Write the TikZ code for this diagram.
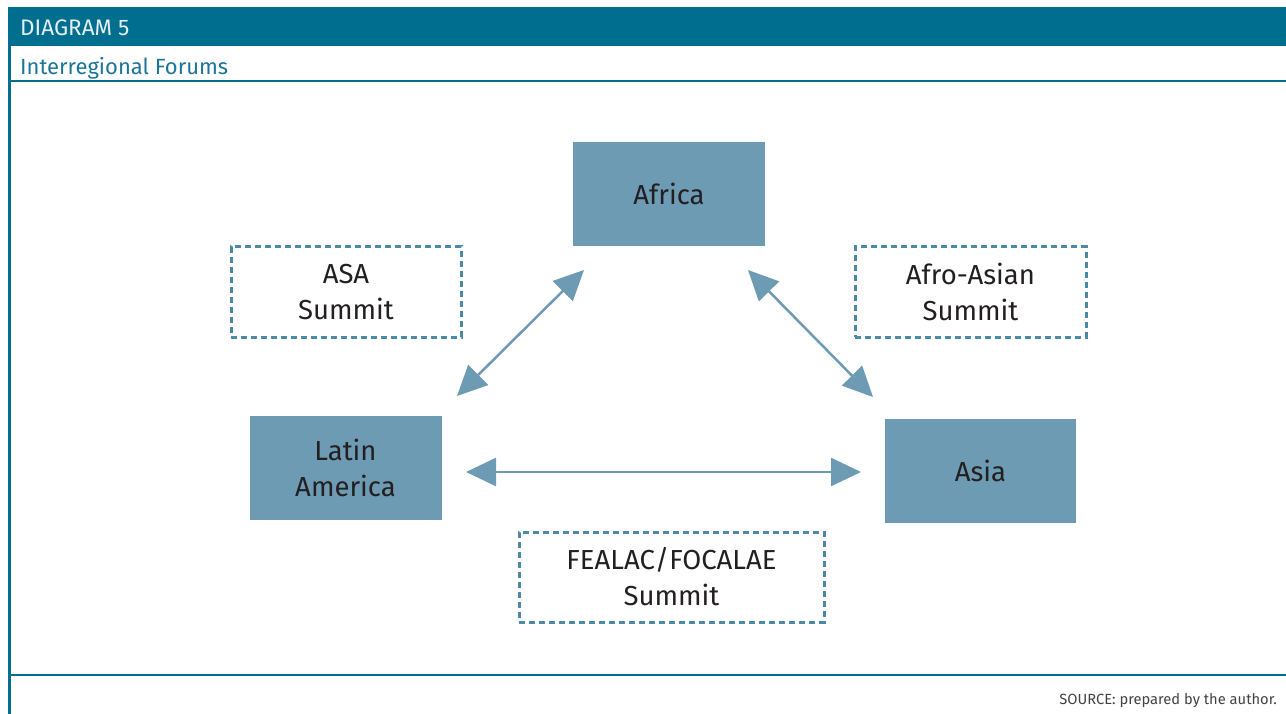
\documentclass[tikz,border=0pt]{standalone}
\usepackage{fontspec}
\setmainfont{Fira Sans}
\usetikzlibrary{arrows.meta}
\definecolor{hdr}{HTML}{006E8F}
\definecolor{hdrtxt}{HTML}{E3EFF3}
\definecolor{subtxt}{HTML}{1B7598}
\definecolor{boxf}{HTML}{6D9BB3}
\definecolor{dashc}{HTML}{4A8AA8}
\definecolor{arrc}{HTML}{6D9BB3}
\definecolor{txt}{HTML}{231F20}
\begin{document}
\begin{tikzpicture}[x=1pt,y=-1pt,
  region/.style={fill=boxf, minimum width=192pt, minimum height=104pt, inner sep=0pt,
    text=txt, font=\fontsize{27.5}{36}\selectfont, align=center},
  forum/.style={draw=dashc, line width=3pt, dash pattern=on 6pt off 4pt,
    minimum height=90pt, inner sep=0pt, text=txt,
    font=\fontsize{27.5}{36}\selectfont, align=center},
  biarrow/.style={draw=arrc, line width=2.5pt,
    {Triangle[length=30pt,width=28pt]}-{Triangle[length=30pt,width=28pt]}},
  frameline/.style={draw=hdr, line width=2pt},
  label/.style={inner sep=0pt}
]
\useasboundingbox (0,0) rectangle (1286,714);
% frame
\fill[hdr] (8,7) rectangle (1286,46);
\draw[hdr, line width=3pt] (9.5,7) -- (9.5,714);
\draw[frameline] (9,81.5) -- (1286,81.5);
\draw[frameline] (9,675) -- (1286,675);
\node[label, anchor=base west, text=hdrtxt, font=\fontsize{22.5}{24}\selectfont] (title) at (20,36) {DIAGRAM 5};
\node[label, anchor=base west, text=subtxt, font=\fontsize{22}{24}\selectfont] (subtitle) at (20,75) {Interregional Forums};
\node[label, anchor=base east, text=txt!85, font=\fontsize{14.7}{16}\selectfont] (source) at (1277,704) {SOURCE: prepared by the author.};
% regions
\node[region] (africa) at (669,194) {Africa};
\node[region] (latam) at (345.5,468) {Latin\\America};
\node[region, minimum width=191pt] (asia) at (980.5,471) {Asia};
% forums
\node[forum, minimum width=230pt] (asa) at (346,292) {ASA\\Summit};
\node[forum, minimum width=231pt] (afroasian) at (970.5,292) {Afro-Asian\\Summit};
\node[forum, minimum width=305pt] (fealac) at (671.5,577) {FEALAC/FOCALAE\\Summit};
% arrow ends
\coordinate (la1) at (457,396);
\coordinate (af1) at (584,270);
\coordinate (af2) at (748,270);
\coordinate (as1) at (873,397);
\coordinate (la2) at (466,472);
\coordinate (as2) at (861,472);
\draw[biarrow] (la1) -- (af1);
\draw[biarrow] (af2) -- (as1);
\draw[biarrow] (la2) -- (as2);
\end{tikzpicture}
\end{document}
